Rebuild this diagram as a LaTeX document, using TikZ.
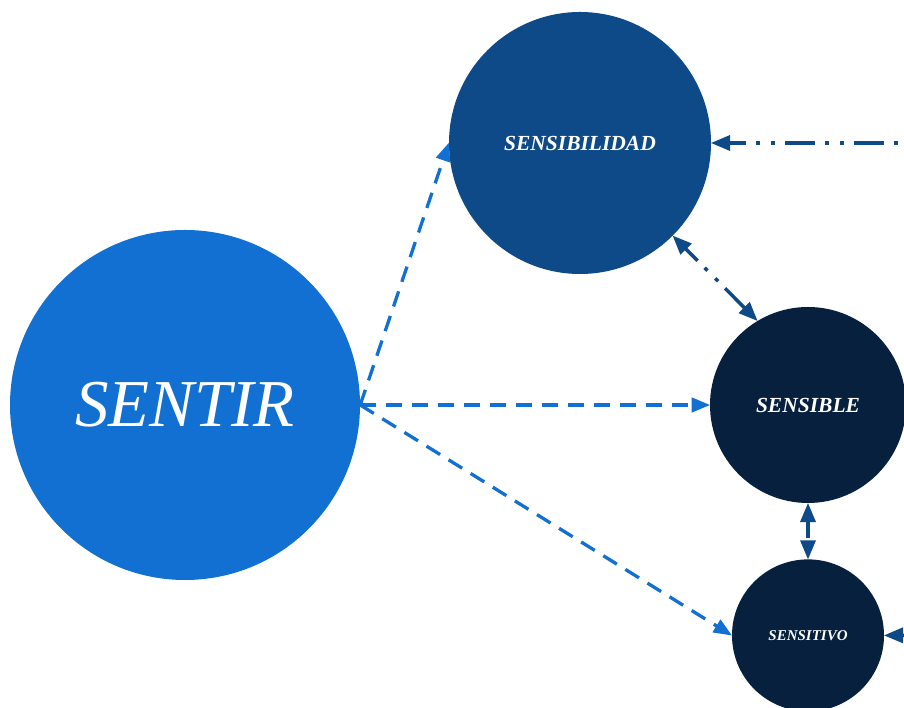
\documentclass[tikz,border=0pt]{standalone}
\usepackage{fontspec}
\setmainfont{Liberation Serif}
\usepackage{xcolor}
\usetikzlibrary{arrows,positioning}
\definecolor{sentirblue}{RGB}{18,112,210}
\definecolor{midblue}{RGB}{13,74,135}
\definecolor{nightblue}{RGB}{6,32,62}

\begin{document}
\begin{tikzpicture}[x=1pt,y=1pt,
		bubble/.style={circle,inner sep=0pt,text=white,font=\bfseries\itshape},
		lightarrow/.style={sentirblue,line width=3.3pt,dash pattern=on 16pt off 10pt,-triangle 45},
		darkarrow/.style={midblue,line width=3.5pt,dash pattern=on 30pt off 10pt on 4pt off 11pt on 4pt off 10pt,triangle 45-triangle 45}]
		\useasboundingbox (0,0) rectangle (904,708);
		\fill[white] (0,0) rectangle (904,708);
		\clip (0,0) rectangle (904,708);
		% circles
		\node[bubble,fill=sentirblue,minimum size=350pt,font=\fontsize{67}{70}\selectfont\itshape] (sentir) at (185,303) {SENTIR};
		\node[bubble,fill=midblue,minimum size=262pt,font=\fontsize{21.5}{24}\selectfont\bfseries\itshape] (sensibilidad) at (580,565) {SENSIBILIDAD};
		\node[bubble,fill=nightblue,minimum size=196pt,font=\fontsize{21.5}{24}\selectfont\bfseries\itshape] (sensible) at (808,303) {SENSIBLE};
		\node[bubble,fill=nightblue,minimum size=152pt,font=\fontsize{15}{17}\selectfont\bfseries\itshape,below=56pt of sensible] (sensitivo) {SENSITIVO};
		% free ends beyond the right edge
		\coordinate (farA) at (1000,565);
		\coordinate (farB) at (1000,73);
		% connectors
		\draw[lightarrow] (sentir.east) -- (sensibilidad.west);
		\draw[lightarrow] (sentir.east) -- (sensible.west);
		\draw[lightarrow] (sentir.east) -- (sensitivo.west);
		\draw[darkarrow] (sensibilidad.-45) -- (sensible.121);
		\draw[darkarrow] (sensible.south) -- (sensitivo.north);
		\draw[darkarrow,triangle 45-] (sensibilidad.east) -- (farA);
		\draw[darkarrow,triangle 45-] (sensitivo.east) -- (farB);
\end{tikzpicture}
\end{document}
